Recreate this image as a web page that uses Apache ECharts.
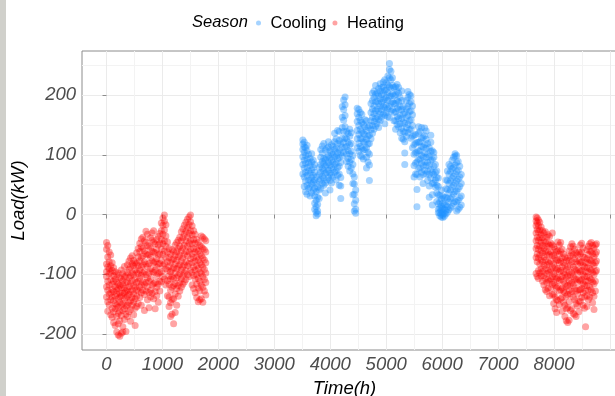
<!DOCTYPE html>
<html>
<head>
<meta charset="utf-8">
<title>Season load</title>
<script src="https://cdn.jsdelivr.net/npm/echarts@6/dist/echarts.min.js"></script>
<style>
  html, body { margin: 0; padding: 0; background: #ffffff; }
  #chart { width: 615px; height: 396px; }
</style>
</head>
<body>
<div id="chart"></div>
<script>
// Axis breaks
const xMajorTicks = [0, 1000, 2000, 3000, 4000, 5000, 6000, 7000, 8000, 9000];
const xTickLabels = [0, 1000, 2000, 3000, 4000, 5000, 6000, 7000, 8000];
const xMinorTicks = [500, 1500, 2500, 3500, 4500, 5500, 6500, 7500, 8500];
const yMajorTicks = [-200, -100, 0, 100, 200];
const yMinorTicks = [-150, -50, 50, 150, 250];
const xRange = [-438, 9198];
const yRange = [-227, 274];

const seasons = ['Cooling', 'Heating'];

// Hourly load samples grouped by hour of year: [hour, [load kW, ...]]
const heatingEarly = [
  [0, [-47, -58, -83, -96, -104, -121, -138]],
  [22, [-52, -71, -88, -112, -127, -146, -162]],
  [48, [-63, -79, -91, -99, -118, -133, -151]],
  [75, [-68, -86, -97, -109, -131, -143, -168]],
  [101, [-81, -94, -117, -126, -138, -157, -172]],
  [128, [-89, -103, -112, -129, -144, -163, -181]],
  [156, [-96, -108, -121, -137, -149, -158, -186]],
  [183, [-101, -113, -127, -133, -152, -171, -197]],
  [210, [-98, -117, -124, -141, -155, -166, -183, -202]],
  [238, [-106, -119, -131, -138, -147, -162, -178, -204]],
  [265, [-93, -108, -122, -136, -151, -169, -199]],
  [292, [-99, -111, -118, -132, -149, -161, -188, -197]],
  [320, [-87, -104, -123, -131, -142, -158, -176]],
  [348, [-102, -114, -128, -139, -153, -167, -196]],
  [375, [-84, -97, -113, -126, -137, -152, -171]],
  [402, [-78, -92, -106, -121, -134, -148, -163]],
  [430, [-73, -88, -103, -116, -129, -144, -159, -179]],
  [458, [-69, -83, -98, -111, -127, -139, -152]],
  [485, [-77, -86, -101, -119, -133, -146, -168]],
  [512, [-81, -93, -108, -122, -141, -157, -186]],
  [540, [-64, -82, -97, -114, -126, -137, -154]],
  [568, [-57, -71, -86, -99, -112, -128, -149]],
  [595, [-48, -62, -78, -93, -107, -122, -139]],
  [622, [-41, -54, -73, -88, -102, -118, -131, -152]],
  [650, [-38, -57, -69, -84, -98, -113, -127]],
  [678, [-44, -61, -79, -96, -117, -134, -161]],
  [705, [-28, -47, -66, -83, -101, -114, -128]],
  [732, [-33, -52, -68, -87, -106, -121, -143]],
  [760, [-53, -67, -82, -98, -112, -131, -156]],
  [788, [-39, -56, -72, -91, -108, -127, -138]],
  [815, [-31, -43, -62, -78, -96, -118, -132]],
  [842, [-27, -46, -63, -81, -97, -116, -141]],
  [870, [-49, -64, -79, -93, -114, -129, -158]],
  [898, [-42, -58, -74, -88, -103, -122, -136]],
  [925, [-37, -51, -68, -83, -99, -117, -147]],
  [952, [-32, -48, -66, -82, -97, -112, -128]],
  [980, [-14, -27, -42, -58, -77, -96, -113]],
  [1008, [-6, -18, -33, -49, -67, -86, -104]],
  [1035, [-1, -11, -26, -44, -61, -83, -108]],
  [1062, [-17, -36, -53, -72, -91, -118]],
  [1090, [-46, -63, -79, -94, -111, -136]],
  [1118, [-57, -72, -87, -103, -117, -138, -154]],
  [1145, [-66, -81, -96, -108, -127, -148, -171]],
  [1172, [-59, -76, -92, -104, -122, -143, -167]],
  [1200, [-62, -74, -89, -107, -119, -141, -183]],
  [1228, [-51, -68, -83, -98, -116, -133, -164]],
  [1255, [-47, -62, -77, -91, -106, -124, -152]],
  [1282, [-43, -57, -71, -87, -102, -119, -137]],
  [1310, [-38, -53, -68, -84, -99, -114, -128]],
  [1338, [-29, -44, -61, -78, -93, -108, -122]],
  [1365, [-24, -39, -56, -73, -88, -103, -117]],
  [1392, [-18, -33, -51, -67, -84, -98, -113]],
  [1420, [-13, -28, -44, -62, -79, -94, -109]],
  [1448, [-8, -22, -38, -53, -69, -86, -101]],
  [1475, [-4, -17, -32, -48, -63, -82, -104]],
  [1502, [-1, -12, -27, -43, -58, -74, -93]],
  [1530, [-19, -34, -49, -66, -81, -97, -118]],
  [1558, [-27, -42, -57, -72, -88, -102, -124]],
  [1585, [-33, -48, -63, -78, -93, -108, -131]],
  [1612, [-42, -58, -71, -86, -101, -117, -139]],
  [1640, [-47, -61, -76, -91, -107, -123, -146]],
  [1668, [-52, -66, -81, -97, -112, -128, -143]],
  [1695, [-36, -54, -69, -84, -99, -118, -141]],
  [1722, [-38, -57, -73, -88, -104, -122, -147]],
  [1750, [-41, -59, -76, -92, -109, -128]],
  [1775, [-44, -63, -81, -98, -114, -135]]
];

const cooling = [
  [3510, [68, 84, 97, 109, 118, 125]],
  [3535, [47, 63, 78, 91, 104, 113, 121]],
  [3560, [38, 56, 71, 86, 99, 112]],
  [3585, [34, 49, 66, 79, 93, 107, 116]],
  [3612, [44, 58, 73, 87, 101]],
  [3640, [31, 46, 57, 69, 82, 94]],
  [3668, [36, 51, 62, 75, 88, 102]],
  [3695, [41, 54, 66, 79, 91]],
  [3722, [9, 19, 31, 44, 58, 71, 84]],
  [3748, [-2, 4, 13, 24, 38, 52, 63]],
  [3775, [1, 6, 17, 29, 46]],
  [3802, [27, 41, 56, 67, 79]],
  [3830, [44, 59, 71, 84, 96, 109]],
  [3858, [52, 64, 77, 89, 103, 115]],
  [3885, [49, 61, 74, 86, 94, 119]],
  [3912, [36, 53, 69, 81, 92, 108]],
  [3940, [58, 71, 83, 96, 111]],
  [3968, [62, 74, 87, 99, 113, 122]],
  [3995, [41, 57, 69, 82, 94, 106]],
  [4022, [53, 66, 79, 91, 103, 117]],
  [4050, [63, 76, 88, 101, 114]],
  [4078, [71, 84, 97, 109, 122, 136]],
  [4105, [58, 73, 86, 98, 111, 127]],
  [4132, [66, 79, 93, 104, 119, 141]],
  [4160, [49, 68, 81, 95, 108, 124, 139]],
  [4188, [27, 48, 62, 87, 103, 118]],
  [4215, [98, 113, 128, 146, 163, 181]],
  [4240, [104, 121, 139, 158, 176, 192]],
  [4265, [112, 128, 147, 166, 184, 197]],
  [4292, [89, 101, 114, 127, 139]],
  [4320, [81, 94, 107, 121, 136]],
  [4348, [73, 88, 102, 117, 131, 143]],
  [4375, [78, 92, 106, 119, 137]],
  [4405, [33, 52, 68, 84, 99]],
  [4430, [6, 18, 34, 51, 63]],
  [4455, [2, 9, 24, 41]],
  [4482, [112, 127, 141, 156, 169, 178]],
  [4510, [106, 119, 134, 149, 163, 176]],
  [4538, [99, 114, 128, 143, 158, 171]],
  [4565, [97, 111, 127, 139, 154, 168]],
  [4592, [93, 108, 122, 136, 151]],
  [4620, [109, 121, 134, 147, 159]],
  [4648, [78, 96, 112, 126, 141, 157]],
  [4675, [88, 104, 118, 131, 146]],
  [4700, [57, 83, 101, 119, 133, 149]],
  [4728, [127, 142, 157, 171, 186]],
  [4755, [136, 149, 163, 177, 191, 203]],
  [4782, [143, 156, 169, 182, 196, 207]],
  [4810, [148, 161, 174, 189, 201, 216]],
  [4838, [152, 164, 177, 190, 204]],
  [4865, [146, 159, 173, 186, 199, 211]],
  [4892, [157, 169, 182, 194, 207, 219]],
  [4920, [163, 176, 188, 201, 213]],
  [4948, [168, 181, 192, 203, 214, 222]],
  [4975, [152, 166, 179, 193, 208, 226]],
  [5002, [171, 183, 196, 209, 221]],
  [5030, [164, 177, 191, 204, 217, 232]],
  [5058, [162, 181, 198, 214, 229, 243, 253]],
  [5085, [173, 187, 199, 212, 226, 240]],
  [5112, [176, 189, 202, 216, 229]],
  [5140, [157, 171, 186, 199, 213]],
  [5168, [143, 157, 172, 186, 201, 214]],
  [5195, [151, 164, 178, 191, 206, 218]],
  [5222, [147, 161, 176, 189, 203, 213]],
  [5250, [137, 152, 166, 181, 196]],
  [5278, [128, 144, 161, 176, 191, 207]],
  [5305, [126, 139, 155, 168, 181]],
  [5332, [84, 103, 122, 138, 153, 171]],
  [5360, [131, 146, 162, 177, 191]],
  [5388, [137, 151, 166, 181, 196, 206]],
  [5415, [142, 157, 172, 186, 201]],
  [5442, [128, 143, 159, 174, 189, 199]],
  [5470, [112, 131, 149, 167, 182]],
  [5498, [63, 82, 101, 117, 133]],
  [5525, [68, 86, 103, 119, 134]],
  [5550, [13, 42, 67, 88, 104, 121]],
  [5578, [77, 92, 107, 121, 136, 147]],
  [5605, [63, 78, 93, 107, 122, 139]],
  [5632, [71, 86, 99, 114, 128, 146]],
  [5660, [52, 67, 82, 97, 113, 129]],
  [5688, [74, 88, 103, 117, 132, 145]],
  [5715, [68, 82, 96, 111, 126, 140]],
  [5742, [57, 72, 87, 101, 119]],
  [5770, [29, 48, 67, 82, 97, 112]],
  [5798, [61, 76, 91, 106, 121, 133]],
  [5825, [16, 33, 52, 71, 92, 107]],
  [5852, [53, 67, 81, 96, 104]],
  [5880, [46, 58, 71, 84]],
  [5905, [22, 36, 49, 62, 73]],
  [5932, [3, 9, 18, 33, 47, 61]],
  [5958, [-2, 3, 11, 21, 32]],
  [5985, [-4, 1, 7, 14, 26, 41]],
  [6012, [-5, -1, 4, 10, 19, 31]],
  [6040, [-3, 2, 9, 17, 28]],
  [6068, [1, 7, 16, 29, 43, 58]],
  [6095, [4, 13, 27, 42, 57, 73]],
  [6122, [8, 21, 36, 52, 68, 84]],
  [6150, [11, 26, 41, 57, 72, 81]],
  [6178, [14, 29, 46, 61, 77, 91]],
  [6205, [19, 34, 49, 64, 79, 96]],
  [6232, [22, 38, 53, 68, 83, 98, 102]],
  [6260, [6, 21, 39, 56, 72, 87, 99]],
  [6288, [9, 24, 43, 59, 74, 89]],
  [6315, [12, 28, 47, 63, 81]],
  [6342, [16, 31, 52, 67]]
];

const heatingLate = [
  [7680, [-4, -11, -19, -31, -44, -57, -72, -99]],
  [7700, [-6, -14, -25, -38, -52, -66, -79, -104]],
  [7722, [-9, -19, -29, -43, -58, -73, -94, -107]],
  [7745, [-13, -26, -39, -53, -68, -83, -98]],
  [7770, [-21, -34, -47, -61, -76, -91, -103]],
  [7795, [-27, -39, -52, -64, -79, -96, -112]],
  [7820, [-31, -44, -57, -71, -86, -102, -118]],
  [7845, [-29, -46, -61, -76, -91, -107, -126]],
  [7870, [-38, -53, -68, -84, -99, -114, -129]],
  [7895, [-34, -49, -63, -79, -94, -109, -124]],
  [7920, [-37, -52, -67, -82, -97, -112, -136]],
  [7945, [-48, -63, -78, -93, -108, -123]],
  [7970, [-31, -51, -69, -88, -104, -117, -134]],
  [7995, [-54, -68, -83, -99, -114, -133, -149]],
  [8020, [-58, -73, -89, -104, -119, -138, -158]],
  [8045, [-62, -77, -93, -108, -123, -143, -164]],
  [8070, [-46, -61, -76, -91, -106, -121, -144]],
  [8095, [-51, -66, -81, -96, -111, -128, -151]],
  [8120, [-47, -62, -78, -94, -109, -126, -141]],
  [8145, [-58, -73, -88, -104, -123, -139, -162]],
  [8170, [-66, -81, -97, -112, -128, -147]],
  [8195, [-71, -86, -101, -117, -131, -152, -171]],
  [8220, [-77, -92, -106, -121, -137, -158, -178]],
  [8245, [-73, -88, -103, -119, -134, -156, -181]],
  [8270, [-61, -77, -96, -111, -127, -146, -177]],
  [8295, [-54, -69, -84, -101, -116, -133, -161]],
  [8320, [-49, -64, -79, -98, -114, -129, -158]],
  [8345, [-53, -68, -88, -104, -119, -138, -166]],
  [8370, [-58, -74, -92, -108, -124, -143, -168]],
  [8395, [-64, -79, -94, -109, -128, -149, -171]],
  [8420, [-68, -83, -98, -114, -133, -153]],
  [8445, [-63, -78, -93, -109, -126, -145, -163]],
  [8470, [-51, -66, -81, -96, -111, -126, -146]],
  [8495, [-48, -63, -79, -94, -109, -124, -139]],
  [8520, [-56, -71, -86, -101, -116, -131, -152]],
  [8545, [-72, -88, -104, -119, -138, -157]],
  [8565, [-81, -96, -112, -128, -188]],
  [8590, [-59, -74, -89, -104, -119, -136, -154]],
  [8615, [-53, -67, -81, -96, -111, -127, -143]],
  [8640, [-49, -61, -76, -91, -106, -121, -138]],
  [8665, [-47, -62, -77, -93, -109, -126]],
  [8690, [-52, -66, -82, -97, -113, -131, -148]],
  [8715, [-56, -71, -86, -101, -116, -137, -159]],
  [8740, [-51, -66, -81, -96, -112, -128]],
  [8760, [-49, -63, -78, -94]]
];

// Expand [hour, [loads]] groups into [hour, load] points
function toPoints(groups) {
  const pts = [];
  groups.forEach(([hour, loads]) => loads.forEach(v => pts.push([hour, v])));
  return pts;
}

const FONT = '"Liberation Sans", Arial, Helvetica, sans-serif';
const GRID_BORDER = '#8c8c8c';
const LABEL_GREY = '#4d4d4d';
const COOLING_COLOR = 'rgba(30, 144, 255, 0.5)';
const HEATING_COLOR = 'rgba(255, 0, 0, 0.45)';

const chart = echarts.init(document.getElementById('chart'), null, { renderer: 'canvas' });

const axisLabelStyle = {
  fontFamily: FONT,
  fontStyle: 'italic',
  fontSize: 18.5,
  color: LABEL_GREY
};

const axisNameStyle = {
  fontFamily: FONT,
  fontStyle: 'italic',
  fontSize: 18.5,
  color: '#000000'
};

chart.setOption({
  animation: false,
  backgroundColor: '#ffffff',
  textStyle: { fontFamily: FONT },
  graphic: [
    {
      type: 'rect',
      shape: { x: 0, y: 0, width: 6, height: 396 },
      style: { fill: '#d0d0cb' },
      silent: true
    },
    {
      type: 'text',
      style: {
        x: 192, y: 22.5,
        text: 'Season',
        fontFamily: FONT,
        fontStyle: 'italic',
        fontSize: 16.5,
        fill: '#000000',
        verticalAlign: 'middle'
      },
      silent: true
    }
  ],
  legend: {
    data: seasons,
    left: 251,
    top: 9.5,
    icon: 'circle',
    itemWidth: 14,
    itemHeight: 5,
    itemGap: 6,
    textStyle: { fontFamily: FONT, fontSize: 16.5, color: '#000000' },
    selectedMode: false
  },
  grid: {
    left: 82,
    top: 51,
    width: 539,
    height: 299,
    outerBoundsMode: 'none',
    containLabel: false,
    show: true,
    borderColor: GRID_BORDER,
    borderWidth: 1,
    backgroundColor: 'transparent'
  },
  xAxis: [
    {
      type: 'value',
      min: xRange[0],
      max: xRange[1],
      name: 'Time(h)',
      nameLocation: 'middle',
      nameGap: 23,
      nameTextStyle: Object.assign({ padding: [0, 14, 0, 0] }, axisNameStyle),
      axisLine: { show: false },
      axisTick: {
        show: true, length: 4, customValues: xMajorTicks,
        lineStyle: { color: GRID_BORDER, width: 1 }
      },
      axisLabel: Object.assign({
        customValues: xTickLabels,
        margin: 5,
        formatter: v => String(v)
      }, axisLabelStyle),
      splitLine: { show: true, lineStyle: { color: '#ebebeb', width: 1 } }
    },
    {
      type: 'value',
      min: xRange[0],
      max: xRange[1],
      position: 'bottom',
      axisLine: { show: false },
      axisTick: { show: false, customValues: xMinorTicks },
      axisLabel: { show: false, customValues: xMinorTicks },
      splitLine: { show: true, lineStyle: { color: '#f3f3f3', width: 1 } }
    }
  ],
  yAxis: [
    {
      type: 'value',
      min: yRange[0],
      max: yRange[1],
      name: 'Load(kW)',
      nameLocation: 'middle',
      nameRotate: 90,
      nameGap: 47,
      nameTextStyle: axisNameStyle,
      axisLine: { show: false },
      axisTick: {
        show: true, length: 4, customValues: yMajorTicks,
        lineStyle: { color: GRID_BORDER, width: 1 }
      },
      axisLabel: Object.assign({
        customValues: yMajorTicks,
        margin: 6,
        formatter: v => String(v)
      }, axisLabelStyle),
      splitLine: { show: true, lineStyle: { color: '#ebebeb', width: 1 } }
    },
    {
      type: 'value',
      min: yRange[0],
      max: yRange[1],
      position: 'left',
      axisLine: { show: false },
      axisTick: { show: false, customValues: yMinorTicks },
      axisLabel: { show: false, customValues: yMinorTicks },
      splitLine: { show: true, lineStyle: { color: '#f3f3f3', width: 1 } }
    }
  ],
  series: [
    {
      name: 'Cooling',
      type: 'scatter',
      xAxisIndex: 0,
      yAxisIndex: 0,
      symbol: 'circle',
      symbolSize: 7,
      itemStyle: { color: COOLING_COLOR },
      data: toPoints(cooling)
    },
    {
      name: 'Heating',
      type: 'scatter',
      xAxisIndex: 0,
      yAxisIndex: 0,
      symbol: 'circle',
      symbolSize: 7,
      itemStyle: { color: HEATING_COLOR },
      data: toPoints(heatingEarly).concat(toPoints(heatingLate))
    }
  ]
});
</script>
</body>
</html>
